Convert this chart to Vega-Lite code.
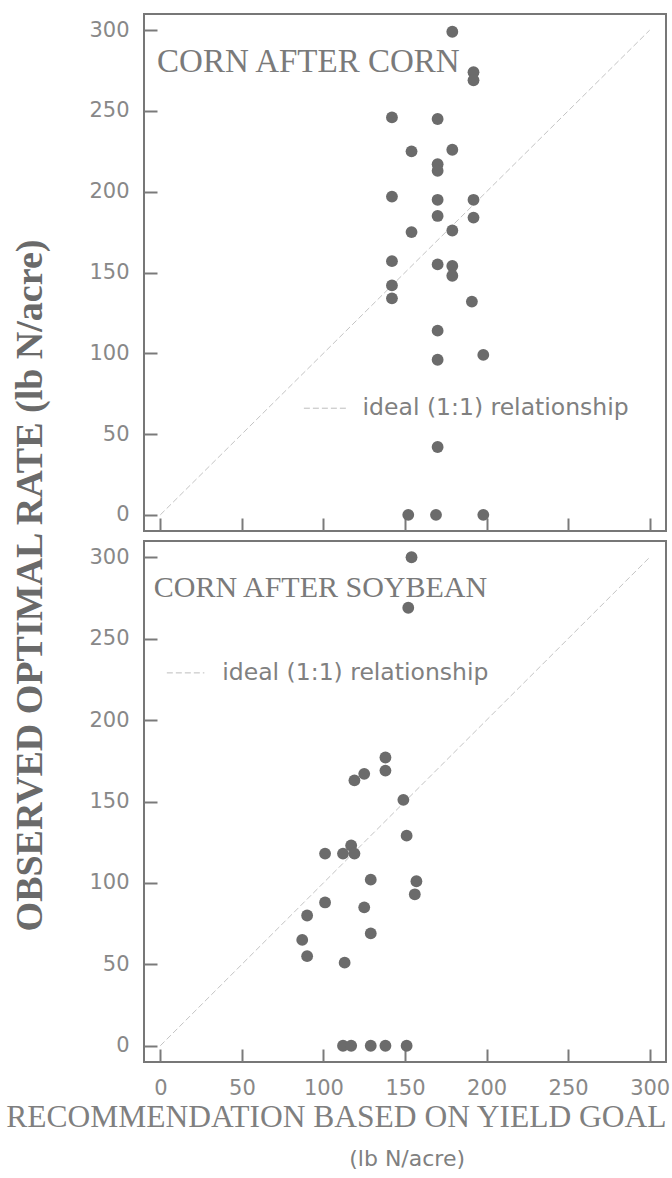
{
  "$schema": "https://vega.github.io/schema/vega-lite/v6.json",
  "background": "white",
  "padding": {"left": 3, "top": 13, "right": 3, "bottom": 5},
  "spacing": 10,
  "bounds": "flush",
  "title": {"text": "(lb N/acre)", "orient": "bottom", "anchor": "middle", "font": "DejaVu Sans", "fontSize": 22, "fontWeight": "normal", "color": "#808080", "offset": 15, "dx": 70},
  "datasets": {
    "cc": [{"x":179,"y":299},{"x":192,"y":274},{"x":192,"y":269},{"x":142,"y":246},{"x":170,"y":245},{"x":154,"y":225},{"x":179,"y":226},{"x":170,"y":217},{"x":170,"y":213},{"x":142,"y":197},{"x":170,"y":195},{"x":192,"y":195},{"x":170,"y":185},{"x":192,"y":184},{"x":154,"y":175},{"x":179,"y":176},{"x":142,"y":157},{"x":170,"y":155},{"x":179,"y":154},{"x":179,"y":148},{"x":142,"y":142},{"x":142,"y":134},{"x":191,"y":132},{"x":170,"y":114},{"x":170,"y":96},{"x":198,"y":99},{"x":170,"y":42},{"x":152,"y":0},{"x":169,"y":0},{"x":198,"y":0}],
    "cs": [{"x":154,"y":300},{"x":152,"y":269},{"x":138,"y":177},{"x":138,"y":169},{"x":125,"y":167},{"x":119,"y":163},{"x":149,"y":151},{"x":151,"y":129},{"x":101,"y":118},{"x":112,"y":118},{"x":117,"y":123},{"x":119,"y":118},{"x":129,"y":102},{"x":157,"y":101},{"x":156,"y":93},{"x":101,"y":88},{"x":125,"y":85},{"x":90,"y":80},{"x":129,"y":69},{"x":87,"y":65},{"x":90,"y":55},{"x":113,"y":51},{"x":112,"y":0},{"x":117,"y":0},{"x":129,"y":0},{"x":138,"y":0},{"x":151,"y":0}],
    "diag": [{"x":0,"y":0},{"x":300,"y":300}],
    "legA": [{"x":88,"y":66},{"x":115,"y":66}],
    "legAtext": [{"x":124,"y":66,"label":"ideal (1:1) relationship"}],
    "labA": [{"x":-2,"y":280,"label":"CORN AFTER CORN"}],
    "legB": [{"x":4,"y":229},{"x":27,"y":229}],
    "legBtext": [{"x":38,"y":229,"label":"ideal (1:1) relationship"}],
    "labB": [{"x":-4,"y":281,"label":"CORN AFTER SOYBEAN"}]
  },
  "vconcat": [
    {
      "width": 522,
      "height": 517,
      "encoding": {
        "x": {"field": "x", "type": "quantitative", "scale": {"domain": [-10, 310], "nice": false, "zero": false},
              "axis": {"values": [0,50,100,150,200,250,300], "labels": false, "title": null}},
        "y": {"field": "y", "type": "quantitative", "scale": {"domain": [-10, 310], "nice": false, "zero": false},
              "axis": {"values": [0,50,100,150,200,250,300], "title": "OBSERVED OPTIMAL RATE (lb N/acre)",
                       "titleFont": "Liberation Serif", "titleFontSize": 38, "titleFontWeight": "bold", "titleColor": "#6a6a6a",
                       "titleY": 571, "titlePadding": 39}}
      },
      "layer": [
        {"data": {"name": "diag"}, "mark": {"type": "line", "color": "#c4c4c4", "strokeWidth": 1, "strokeDash": [6, 3]}, "encoding": {}},
        {"data": {"name": "legA"}, "mark": {"type": "line", "color": "#bdbdbd", "strokeWidth": 1, "strokeDash": [6, 3]}, "encoding": {}},
        {"data": {"name": "legAtext"}, "mark": {"type": "text", "align": "left", "baseline": "middle", "font": "DejaVu Sans", "fontSize": 23.5, "color": "#808080"}, "encoding": {"text": {"field": "label"}}},
        {"data": {"name": "labA"}, "mark": {"type": "text", "align": "left", "baseline": "middle", "font": "Liberation Serif", "fontSize": 33, "color": "#7a7a7a"}, "encoding": {"text": {"field": "label"}}},
        {"data": {"name": "cc"}, "mark": {"type": "circle", "size": 140, "color": "#6b6b6b", "opacity": 1}, "encoding": {}}
      ]
    },
    {
      "width": 522,
      "height": 521,
      "encoding": {
        "x": {"field": "x", "type": "quantitative", "scale": {"domain": [-10, 310], "nice": false, "zero": false},
              "axis": {"values": [0,50,100,150,200,250,300], "title": "RECOMMENDATION BASED ON YIELD GOAL",
                       "titleFont": "Liberation Serif", "titleFontSize": 31.5, "titleFontWeight": "normal", "titleColor": "#7f7f7f",
                       "titleAnchor": "end", "titlePadding": 3}},
        "y": {"field": "y", "type": "quantitative", "scale": {"domain": [-10, 310], "nice": false, "zero": false},
              "axis": {"values": [0,50,100,150,200,250,300], "title": null}}
      },
      "layer": [
        {"data": {"name": "diag"}, "mark": {"type": "line", "color": "#c4c4c4", "strokeWidth": 1, "strokeDash": [6, 3]}, "encoding": {}},
        {"data": {"name": "legB"}, "mark": {"type": "line", "color": "#bdbdbd", "strokeWidth": 1, "strokeDash": [6, 3]}, "encoding": {}},
        {"data": {"name": "legBtext"}, "mark": {"type": "text", "align": "left", "baseline": "middle", "font": "DejaVu Sans", "fontSize": 23.5, "color": "#808080"}, "encoding": {"text": {"field": "label"}}},
        {"data": {"name": "labB"}, "mark": {"type": "text", "align": "left", "baseline": "middle", "font": "Liberation Serif", "fontSize": 30, "color": "#7a7a7a"}, "encoding": {"text": {"field": "label"}}},
        {"data": {"name": "cs"}, "mark": {"type": "circle", "size": 140, "color": "#6b6b6b", "opacity": 1}, "encoding": {}}
      ]
    }
  ],
  "config": {
    "view": {"stroke": "#777777", "strokeWidth": 2},
    "axis": {"domain": false, "grid": false, "ticks": true, "tickColor": "#7a7a7a", "tickWidth": 2, "tickSize": -13,
             "labelFont": "DejaVu Sans", "labelFontSize": 21, "labelColor": "#888888", "labelPadding": 28,
             "labelFlush": false, "labelOverlap": false}
  }
}
